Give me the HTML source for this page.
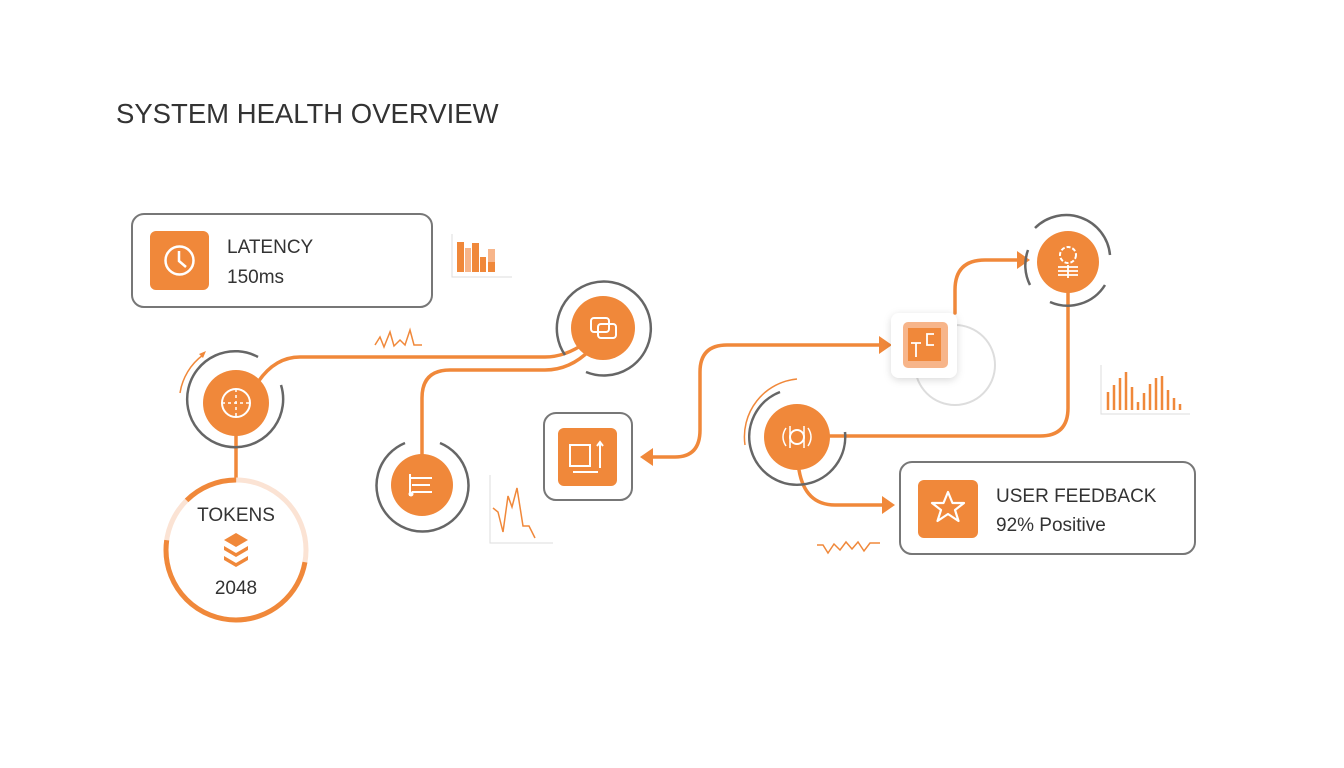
<!DOCTYPE html>
<html><head><style>
html,body{margin:0;padding:0;background:#fff;width:1344px;height:768px;overflow:hidden}
text{font-family:"Liberation Sans",sans-serif}
</style></head><body>
<svg width="1344" height="768" viewBox="0 0 1344 768" xmlns="http://www.w3.org/2000/svg">
<defs>
<filter id="sh" x="-30%" y="-30%" width="160%" height="160%"><feDropShadow dx="0" dy="2" stdDeviation="4" flood-color="#000" flood-opacity="0.15"/></filter>
</defs>
<text x="116" y="123" font-size="27.5" fill="#333">SYSTEM HEALTH OVERVIEW</text>

<g fill="none" stroke="#F0883A" stroke-width="3.5" stroke-linecap="round">
<path d="M258 382 Q275 357 300 357 L545 357 Q565 357 585 343"/>
<path d="M590 350 Q570 370 545 370 L450 370 Q422 370 422 398 L422 455"/>
<path d="M236 436 L236 480"/>
<path d="M652 457 L675 457 Q700 457 700 430 L700 372 Q700 345 727 345 L880 345"/>
<path d="M955 313 L955 290 Q955 260 985 260 L1018 260"/>
<path d="M1068 293 L1068 408 Q1068 436 1040 436 L830 436"/>
<path d="M799 470 Q805 505 835 505 L882 505"/>
</g>
<g fill="#F0883A">
<path d="M640 457 L653 448 L653 466Z"/>
<path d="M892 345 L879 336 L879 354Z"/>
<path d="M1030 260 L1017 251 L1017 269Z"/>
<path d="M895 505 L882 496 L882 514Z"/>
</g>

<rect x="132" y="214" width="300" height="93" rx="12" fill="#fff" stroke="#777" stroke-width="2"/>
<rect x="150" y="231" width="59" height="59" rx="6" fill="#F0883A"/>
<circle cx="179.5" cy="260.5" r="14" fill="none" stroke="#fff" stroke-width="2.5"/>
<path d="M179 251 L179 261 L186 267" fill="none" stroke="#fff" stroke-width="2.5"/>
<text x="227" y="253" font-size="19" fill="#333">LATENCY</text>
<text x="227" y="283" font-size="19" fill="#333">150ms</text>
<path d="M452 234 L452 277 L512 277" fill="none" stroke="#ddd" stroke-width="1"/>
<rect x="457" y="242" width="7" height="30" fill="#F0883A"/>
<rect x="465" y="248" width="6" height="24" fill="#F7B58A"/>
<rect x="472" y="243" width="7" height="29" fill="#F0883A"/>
<rect x="480" y="257" width="6" height="15" fill="#F0883A"/>
<rect x="488" y="249" width="7" height="23" fill="#F7B58A"/>
<rect x="488" y="262" width="7" height="10" fill="#F0883A"/>

<path d="M375 345 L380 337 L384 347 L390 332 L394 346 L400 340 L405 345 L410 330 L414 345 L422 345" fill="none" stroke="#F0883A" stroke-width="1.5"/>

<path d="M258 357 A48 48 0 1 0 281 385" fill="none" stroke="#666" stroke-width="2.5"/>
<path d="M180 393 A58 58 0 0 1 203 355" fill="none" stroke="#F0883A" stroke-width="1.5"/>
<path d="M199 354 L206 351 L203 358Z" fill="#F0883A"/>
<circle cx="236" cy="403" r="33" fill="#F0883A"/>
<circle cx="236" cy="403" r="14" fill="none" stroke="#fff" stroke-width="2"/>
<path d="M236 389 V417 M222 403 H250" stroke="#fff" stroke-width="1.5" stroke-dasharray="3 3"/>

<circle cx="236" cy="550" r="70" fill="#fff" stroke="#FBE3D4" stroke-width="5"/>
<circle cx="236" cy="550" r="70" fill="none" stroke="#F0883A" stroke-width="5" stroke-dasharray="217.5 1000" stroke-dashoffset="-12.2"/>
<circle cx="236" cy="550" r="70" fill="none" stroke="#F0883A" stroke-width="5" stroke-dasharray="55 1000" stroke-dashoffset="-274.9"/>
<text x="236" y="521" font-size="19" fill="#333" text-anchor="middle">TOKENS</text>
<g fill="#F0883A">
<path d="M236 533 L248 540 L236 547 L224 540Z"/>
<path d="M224 546 L236 553 L248 546 L248 550 L236 557 L224 550Z"/>
<path d="M224 556 L236 563 L248 556 L248 560 L236 567 L224 560Z"/>
</g>
<text x="236" y="594" font-size="19" fill="#333" text-anchor="middle">2048</text>

<path d="M565 355 A47 47 0 1 1 586 372" fill="none" stroke="#666" stroke-width="2.5"/>
<circle cx="603" cy="328" r="32" fill="#F0883A"/>
<rect x="591" y="318" width="18" height="14" rx="3" fill="none" stroke="#fff" stroke-width="2"/>
<rect x="598" y="324" width="18" height="14" rx="3" fill="none" stroke="#fff" stroke-width="2"/>

<path d="M405 443 A46 46 0 1 0 440 443" fill="none" stroke="#666" stroke-width="2.5"/>
<circle cx="422" cy="485" r="31" fill="#F0883A"/>
<path d="M410 478 H432 M412 485 H430 M412 492 H432 M410 474 V496" stroke="#fff" stroke-width="2" fill="none"/>
<circle cx="411" cy="494" r="2.5" fill="#fff"/>
<path d="M490 475 L490 543 L553 543" fill="none" stroke="#ddd" stroke-width="1"/>
<path d="M493 508 L498 512 L503 532 L508 496 L512 507 L517 488 L523 526 L529 526 L535 538" fill="none" stroke="#F0883A" stroke-width="1.5"/>

<rect x="544" y="413" width="88" height="87" rx="12" fill="#fff" stroke="#777" stroke-width="2"/>
<rect x="558" y="428" width="59" height="58" rx="6" fill="#F0883A"/>
<path d="M570 445 H590 V466 H570 Z M573 472 H598 M600 468 V442 M597 446 L600 442 L603 446" fill="none" stroke="#fff" stroke-width="2"/>

<circle cx="955" cy="365" r="40" fill="none" stroke="#ddd" stroke-width="2"/>
<rect x="891" y="313" width="66" height="65" rx="8" fill="#fff" filter="url(#sh)"/>
<rect x="903" y="322" width="45" height="46" rx="5" fill="#F7B58A"/>
<rect x="908" y="328" width="33" height="33" fill="#F0883A"/>
<path d="M911 343 H921 M916 343 V357 M934 334 H927 V345 H934" fill="none" stroke="#fff" stroke-width="1.8"/>

<path d="M1035 228 A44 44 0 0 1 1110 255 M1105 285 A44 44 0 0 1 1050 302 M1030 285 A44 44 0 0 1 1028 250" fill="none" stroke="#666" stroke-width="2.5"/>
<circle cx="1068" cy="262" r="31" fill="#F0883A"/>
<circle cx="1068" cy="255" r="8" fill="none" stroke="#fff" stroke-width="2" stroke-dasharray="4 2"/>
<path d="M1058 267 H1078 M1058 271 H1078 M1058 275 H1078 M1068 265 V278" stroke="#fff" stroke-width="1.8"/>
<path d="M1101 365 L1101 414 L1190 414" fill="none" stroke="#ddd" stroke-width="1"/>
<g stroke="#F0883A" stroke-width="2.5">
<path d="M1108 410 V392 M1114 410 V385 M1120 410 V378 M1126 410 V372 M1132 410 V387 M1138 410 V402 M1144 410 V393 M1150 410 V384 M1156 410 V378 M1162 410 V376 M1168 410 V390 M1174 410 V398 M1180 410 V404"/>
</g>

<path d="M780 392 A48 48 0 1 0 845 432" fill="none" stroke="#666" stroke-width="2.5"/>
<path d="M745 445 A58 58 0 0 1 797 379" fill="none" stroke="#F0883A" stroke-width="1.5"/>
<circle cx="797" cy="437" r="33" fill="#F0883A"/>
<circle cx="797" cy="437" r="7" fill="none" stroke="#fff" stroke-width="2"/>
<path d="M786 428 Q780 437 786 446 M808 428 Q814 437 808 446 M790 426 V448 M804 426 V448" fill="none" stroke="#fff" stroke-width="1.5"/>
<path d="M817 545 L823 545 L828 553 L834 544 L840 550 L846 542 L852 549 L858 542 L864 551 L870 543 L880 543" fill="none" stroke="#F0883A" stroke-width="1.5"/>

<rect x="900" y="462" width="295" height="92" rx="12" fill="#fff" stroke="#777" stroke-width="2"/>
<rect x="918" y="480" width="60" height="58" rx="6" fill="#F0883A"/>
<path d="M948 492 L952.5 503 L964 503 L955 510 L958.5 521 L948 514 L937.5 521 L941 510 L932 503 L943.5 503Z" fill="none" stroke="#fff" stroke-width="2.2" stroke-linejoin="round"/>
<text x="996" y="502" font-size="19" fill="#333">USER FEEDBACK</text>
<text x="996" y="531" font-size="19" fill="#333">92% Positive</text>
</svg>
</body></html>
